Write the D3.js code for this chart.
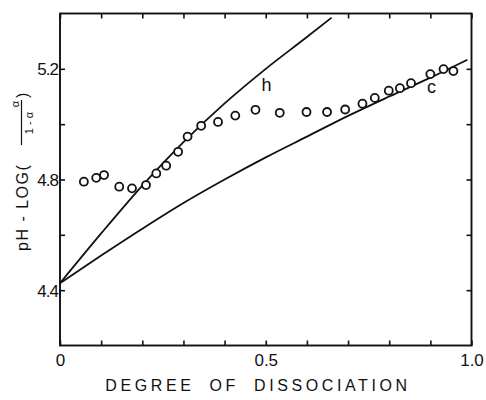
<!DOCTYPE html>
<html>
<head>
<meta charset="utf-8">
<script src="https://cdn.jsdelivr.net/npm/d3@7"></script>
<style>
  html, body { margin: 0; padding: 0; background: #fff; }
  svg { display: block; }
  text { font-family: "Liberation Sans", "DejaVu Sans", sans-serif; fill: #111; }
</style>
</head>
<body>
<svg id="chart" width="486" height="400"></svg>
<script>
// ---- data ----
const pointAlpha = [0.058, 0.088, 0.107, 0.144, 0.175, 0.209, 0.234, 0.258, 0.287, 0.310, 0.343, 0.384, 0.426, 0.475, 0.534, 0.599, 0.649, 0.693, 0.735, 0.765, 0.799, 0.826, 0.853, 0.900, 0.932, 0.956];
const pointValue = [4.792, 4.806, 4.816, 4.774, 4.768, 4.780, 4.822, 4.850, 4.900, 4.955, 4.994, 5.008, 5.031, 5.052, 5.041, 5.044, 5.044, 5.053, 5.074, 5.095, 5.121, 5.130, 5.148, 5.181, 5.199, 5.192];

const curveHAlpha = [0, 0.1, 0.2, 0.3, 0.4, 0.5, 0.6, 0.66];
const curveHValue = [4.425, 4.605, 4.778, 4.935, 5.075, 5.200, 5.315, 5.385];

const curveCAlpha = [0, 0.1, 0.2, 0.3, 0.4, 0.5, 0.6, 0.7, 0.8, 0.9, 0.99];
const curveCValue = [4.425, 4.525, 4.622, 4.715, 4.800, 4.880, 4.955, 5.030, 5.100, 5.168, 5.233];

const xTickValues = [0, 0.1, 0.2, 0.3, 0.4, 0.5, 0.6, 0.7, 0.8, 0.9, 1.0];
const xTickLabels = {0: "0", 0.5: "0.5", 1: "1.0"};
const yTickValues = [4.4, 4.6, 4.8, 5.0, 5.2];
const yTickLabels = {4.4: "4.4", 4.8: "4.8", 5.2: "5.2"};

const curveLabels = [{text: "h", a: 0.502, v: 5.12}, {text: "c", a: 0.903, v: 5.112}];

// ---- layout ----
const svg = d3.select("#chart");
const L = 60, R = 471.5, T = 13.5, B = 345.5;
const x = d3.scaleLinear().domain([0, 1]).range([L, R]);
const y = d3.scaleLinear().domain([4.2, 5.4]).range([B, T]);
const ink = "#111";

// frame
svg.append("rect").attr("x", L).attr("y", T).attr("width", R - L).attr("height", B - T)
  .attr("fill", "none").attr("stroke", ink).attr("stroke-width", 1.9);

// axes with inner ticks
const tickLen = 5;
const bottomAxis = d3.axisBottom(x).tickValues(xTickValues).tickSizeInner(-tickLen).tickSizeOuter(0).tickFormat(d => xTickLabels[d] || "");
const topAxis = d3.axisTop(x).tickValues(xTickValues).tickSizeInner(-tickLen).tickSizeOuter(0).tickFormat("");
const leftAxis = d3.axisLeft(y).tickValues(yTickValues).tickSizeInner(-tickLen).tickSizeOuter(0).tickFormat(d => yTickLabels[d.toFixed(1)] || "");
const rightAxis = d3.axisRight(y).tickValues(yTickValues).tickSizeInner(-tickLen).tickSizeOuter(0).tickFormat("");

function styleAxis(g) {
  g.select(".domain").remove();
  g.selectAll(".tick line").attr("stroke", ink).attr("stroke-width", 1.6);
  g.selectAll(".tick text").attr("fill", ink).style("font-size", "17px").attr("font-family", "Liberation Sans, sans-serif");
}
svg.append("g").attr("transform", `translate(0,${B})`).call(bottomAxis).call(styleAxis)
  .selectAll(".tick text").attr("y", 8).attr("dy", "0.71em");
svg.append("g").attr("transform", `translate(0,${T})`).call(topAxis).call(styleAxis);
svg.append("g").attr("transform", `translate(${L},0)`).call(leftAxis).call(styleAxis)
  .selectAll(".tick text").attr("x", -2).attr("dy", "0.36em").style("letter-spacing", "-1px");
svg.append("g").attr("transform", `translate(${R},0)`).call(rightAxis).call(styleAxis);

// curves
const line = d3.line().x(d => x(d[0])).y(d => y(d[1])).curve(d3.curveMonotoneX);
svg.append("path").datum(d3.zip(curveHAlpha, curveHValue)).attr("d", line)
  .attr("fill", "none").attr("stroke", ink).attr("stroke-width", 1.8);
svg.append("path").datum(d3.zip(curveCAlpha, curveCValue)).attr("d", line)
  .attr("fill", "none").attr("stroke", ink).attr("stroke-width", 1.8);

// points
svg.append("g").selectAll("circle").data(d3.zip(pointAlpha, pointValue)).join("circle")
  .attr("cx", d => x(d[0])).attr("cy", d => y(d[1])).attr("r", 4)
  .attr("fill", "#fff").attr("stroke", ink).attr("stroke-width", 1.8);

// curve labels
svg.append("g").selectAll("text").data(curveLabels).join("text")
  .attr("x", d => x(d.a)).attr("y", d => y(d.v)).attr("text-anchor", "middle")
  .style("font-size", "18px").text(d => d.text);

// x-axis title
svg.append("text").attr("x", 258).attr("y", 391).attr("text-anchor", "middle")
  .style("font-size", "16px").style("letter-spacing", "3.6px").style("word-spacing", "7px")
  .text("DEGREE OF DISSOCIATION");

// y-axis title (rotated)
const yt = svg.append("g").attr("transform", "rotate(-90)");
yt.append("text").attr("x", -251).attr("y", 28).style("font-size", "16px").style("letter-spacing", "1.5px")
  .text("pH - LOG(");
yt.append("line").attr("x1", -145).attr("x2", -100).attr("y1", 21.5).attr("y2", 21.5).attr("stroke", ink).attr("stroke-width", 1.2);
yt.append("text").attr("x", -101).attr("y", 18.5).attr("text-anchor", "end").style("font-size", "11px").text("α");
yt.append("text").attr("x", -123).attr("y", 32.5).attr("text-anchor", "middle").style("font-size", "11px").text("1 - α");
yt.append("text").attr("x", -98).attr("y", 28).style("font-size", "16px").text(")");
</script>
</body>
</html>
